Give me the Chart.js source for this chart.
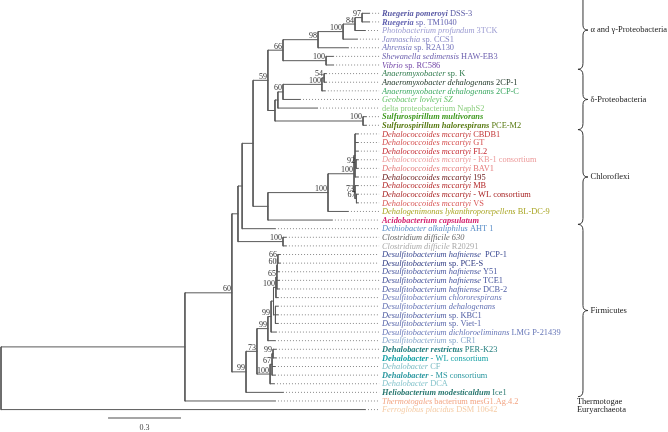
<!DOCTYPE html>
<html>
<head>
<meta charset="utf-8">
<script src="https://cdn.jsdelivr.net/npm/chart.js@4.4.1/dist/chart.umd.min.js"></script>
<style>
  html, body { margin: 0; padding: 0; background: #fff; }
  #wrap { width: 668px; height: 432px; }
</style>
</head>
<body>
<div id="wrap"><canvas id="tree" width="668" height="432"></canvas></div>
<script>
// leaves, top to bottom: italic part, upright part
var taxaItalic = ["Ruegeria pomeroyi","Ruegeria","Photobacterium profundum","Jannaschia","Ahrensia",
  "Shewanella sedimensis","Vibrio","Anaeromyxobacter","Anaeromyxobacter dehalogenans","Anaeromyxobacter dehalogenans",
  "Geobacter lovleyi SZ","","Sulfurospirillum multivorans","Sulfurospirillum halorespirans",
  "Dehalococcoides mccartyi","Dehalococcoides mccartyi","Dehalococcoides mccartyi","Dehalococcoides mccartyi",
  "Dehalococcoides mccartyi","Dehalococcoides mccartyi","Dehalococcoides mccartyi","Dehalococcoides mccartyi",
  "Dehalococcoides mccartyi","Dehalogenimonas lykanthroporepellens","Acidobacterium capsulatum",
  "Dethiobacter alkaliphilus","Clostridium difficile 630","Clostridium difficile",
  "Desulfitobacterium hafniense","Desulfitobacterium","Desulfitobacterium hafniense","Desulfitobacterium hafniense",
  "Desulfitobacterium hafniense","Desulfitobacterium chlororespirans","Desulfitobacterium dehalogenans",
  "Desulfitobacterium","Desulfitobacterium","Desulfitobacterium dichloroeliminans","Desulfitobacterium",
  "Dehalobacter restrictus","Dehalobacter","Dehalobacter","Dehalobacter","Dehalobacter",
  "Heliobacterium modesticaldum","Thermotogales","Ferroglobus placidus"];
var taxaPlain = [" DSS-3"," sp. TM1040"," 3TCK"," sp. CCS1"," sp. R2A130",
  " HAW-EB3"," sp. RC586"," sp. K"," 2CP-1"," 2CP-C",
  "","delta proteobacterium NaphS2",""," PCE-M2",
  " CBDB1"," GT"," FL2"," - KB-1 consortium"," BAV1"," 195"," MB"," - WL consortium"," VS",
  " BL-DC-9",""," AHT 1",""," R20291",
  "  PCP-1"," sp. PCE-S"," Y51"," TCE1"," DCB-2","","",
  " sp. KBC1"," sp. Viet-1"," LMG P-21439"," sp. CR1",
  " PER-K23"," - WL consortium"," CF"," - MS consortium"," DCA",
  " Ice1"," bacterium mesG1.Ag.4.2"," DSM 10642"];
var leafParent = ["N97","N97","N84","Na100","N98","Shew100","Shew100","N54","N54","Anaero100",
  "N60d","NC","Sulf100","Sulf100",
  "D1","D1","D1","N92","N92","D1","D2","N67","N67","Dhc100","ND",
  "N242","Clos100","Clos100",
  "nA","nA","nB","nC","nC","nD","nF","nF","nF","nH","nI",
  "Dhb99","Dhb99","N67b","N67b","Dhb100","Firm99","N1","R"];
var leafDepth = [1.513,1.513,1.496,1.463,1.426,1.365,1.365,1.336,1.336,1.331,
  1.229,1.299,1.500,1.500,
  1.467,1.467,1.467,1.467,1.467,1.467,1.467,1.467,1.467,1.426,1.360,
  1.126,1.171,1.171,
  1.147,1.147,1.143,1.143,1.143,1.138,1.138,1.138,1.138,1.130,1.126,
  1.130,1.130,1.126,1.126,1.122,1.159,1.126,1.496];

// internal nodes
var nodeIds = ["R","N1","N60","N238","N242","N253","N59","N66","N98","Na100","N84","N97","Shew100",
  "NB","NC","N60d","Anaero100","N54","Sulf100","ND","Dhc100","D0","D1","N92","D2","N67",
  "Clos100","Firm99","N73","nI","nH","nG","nD","nC","nB","nA","nF","Dhb100","N67b","Dhb99"];
var nodeParent = [null,"R","N1","N60","N238","N242","N253","N59","N66","N98","Na100","N84","N66",
  "N59","NB","NC","N60d","Anaero100","NB","N253","ND","Dhc100","D0","D1","D0","D2",
  "N238","N60","Firm99","N73","nI","nH","nG","nD","nC","nB","nG","N73","Dhb100","N67b"];
var nodeDepth = [0,0.756,0.949,0.974,0.991,1.036,1.097,1.159,1.303,1.406,1.455,1.484,1.336,
  1.126,1.138,1.159,1.319,1.328,1.488,1.097,1.344,1.451,1.455,1.459,1.455,1.461,
  1.159,1.007,1.052,1.097,1.110,1.120,1.130,1.134,1.136,1.138,1.128,1.106,1.114,1.118];
var nodeSupport = ["","","60","","","","59","66","98","100","84","97","100",
  "","","60","100","54","100","","100","100","","92","73","67",
  "100","99","73","99","99","","100","65","60","66","","100","67","99"];

// clade brackets, in rows (top edge, bottom edge)
var groupNames = ["\u03b1 and \u03b3-Proteobacteria","\u03b4-Proteobacteria","Chloroflexi","Firmicutes"];
var groupTop = [-2.6, 6.5, 13.5, 24.5];
var groupBottom = [6.5, 13.5, 24.5, 44.5];
var soloNames = ["Thermotogae","Euryarchaeota"];
var soloRows = [45,46];
var scaleBarLength = 0.3;

// styles
var taxaColors = ["#5b5ba6","#6464b2","#9c9cd2","#8888c6","#7272bb","#6c5fae","#7448a8",
  "#2f7a4c","#1e3526","#3ca862","#66c46a","#8ccf7e","#3f9a1f","#587a12",
  "#c43a3a","#d45050","#c42c34","#ec9a9a","#e47878","#6e2020","#b42a2a","#a82424","#d85858",
  "#aaa626","#d4226e","#5b8fc8","#666666","#aaaaaa",
  "#3c4a92","#2e3a82","#4a58a0","#44529a","#5260a6","#6a78b8","#6472b4","#4e5ca2","#5866aa","#6878b8","#86a6cc",
  "#217c7c","#14a0a4","#7cbcc4","#2c98a0","#86c4cc","#2a7870","#f2a584","#f5cca6"];
var taxaBold = [1,1,0,0,0,0,0,0,0,0,0,0,1,1,0,0,0,0,0,0,0,0,0,0,1,0,0,0,
  0,0,0,0,0,0,0,0,0,0,0,1,1,0,1,0,1,0,0];

var PX_PER_UNIT = 243.3, ROW = 8.615, TOP = 13.3;
var alignDepth = 1.554, labelDepth = 1.566;
var FONT = '"Liberation Serif", "Times New Roman", serif';

// layout: y of every node from its children
var kids = {};
nodeIds.forEach(function (id) { kids[id] = []; });
leafParent.forEach(function (p, i) { kids[p].push({ leaf: i }); });
nodeParent.forEach(function (p, i) { if (p) kids[p].push({ node: nodeIds[i] }); });
var nodeY = {}, depthOf = {};
nodeIds.forEach(function (id, i) { depthOf[id] = nodeDepth[i]; });
function placeY(id) {
  var ys = kids[id].map(function (k) { return k.leaf !== undefined ? k.leaf : placeY(k.node); });
  var lo = Math.min.apply(null, ys), hi = Math.max.apply(null, ys);
  nodeY[id] = (lo + hi) / 2;
  nodeY[id + "_lo"] = lo; nodeY[id + "_hi"] = hi;
  return nodeY[id];
}
placeY("R");

var solid = [], dots = [];
function seg(arr, x1, y1, x2, y2) {
  arr.push({ x: x1, y: y1 }, { x: x2, y: y2 }, { x: NaN, y: NaN });
}
nodeIds.forEach(function (id, i) {
  seg(solid, nodeDepth[i], nodeY[id + "_lo"], nodeDepth[i], nodeY[id + "_hi"]);
  if (nodeParent[i]) seg(solid, depthOf[nodeParent[i]], nodeY[id], nodeDepth[i], nodeY[id]);
});
leafParent.forEach(function (p, i) {
  seg(solid, depthOf[p], i, leafDepth[i], i);
  seg(dots, leafDepth[i], i, alignDepth, i);
});

var xMin = -1 / PX_PER_UNIT, xMax = xMin + 668 / PX_PER_UNIT;
var yMin = -TOP / ROW, yMax = yMin + 432 / ROW;

var textPlugin = {
  id: 'treeText',
  afterDatasetsDraw: function (chart) {
    var ctx = chart.ctx, xs = chart.scales.x, ys = chart.scales.y;
    ctx.save();
    // taxon names
    ctx.textBaseline = 'middle';
    ctx.textAlign = 'left';
    for (var i = 0; i < taxaItalic.length; i++) {
      var x = xs.getPixelForValue(labelDepth), y = ys.getPixelForValue(i) + 0.5;
      var w = taxaBold[i] ? 'bold ' : '';
      ctx.fillStyle = taxaColors[i];
      if (taxaItalic[i]) {
        ctx.font = 'italic ' + w + '8.4px ' + FONT;
        ctx.fillText(taxaItalic[i], x, y);
        x += ctx.measureText(taxaItalic[i]).width;
      }
      if (taxaPlain[i]) {
        ctx.font = '8.4px ' + FONT;
        ctx.fillText(taxaPlain[i], x, y);
      }
    }
    // bootstrap values
    ctx.fillStyle = '#333';
    ctx.font = '8px ' + FONT;
    ctx.textAlign = 'right';
    ctx.textBaseline = 'alphabetic';
    nodeIds.forEach(function (id, i) {
      if (!nodeSupport[i]) return;
      ctx.fillText(nodeSupport[i], xs.getPixelForValue(nodeDepth[i]) - 1, ys.getPixelForValue(nodeY[id]) - 1.5);
    });
    // braces and group names
    ctx.strokeStyle = '#333';
    ctx.lineWidth = 1;
    ctx.fillStyle = '#222';
    ctx.font = '8.5px ' + FONT;
    ctx.textAlign = 'left';
    ctx.textBaseline = 'middle';
    var bx = xs.getPixelForValue(2.392);
    groupNames.forEach(function (g, k) {
      var y1 = ys.getPixelForValue(groupTop[k]), y2 = ys.getPixelForValue(groupBottom[k]);
      var ym = (y1 + y2) / 2;
      ctx.beginPath();
      ctx.moveTo(bx - 5, y1);
      ctx.quadraticCurveTo(bx, y1, bx, y1 + 6);
      ctx.lineTo(bx, ym - 5);
      ctx.quadraticCurveTo(bx, ym, bx + 5, ym);
      ctx.quadraticCurveTo(bx, ym, bx, ym + 5);
      ctx.lineTo(bx, y2 - 6);
      ctx.quadraticCurveTo(bx, y2, bx - 5, y2);
      ctx.stroke();
      ctx.fillText(g, bx + 7.5, ym);
    });
    soloNames.forEach(function (g, k) {
      ctx.fillText(g, xs.getPixelForValue(2.367), ys.getPixelForValue(soloRows[k]) + 0.5);
    });
    // scale bar
    var sx = xs.getPixelForValue(0.44), sy = ys.getPixelForValue(46.98);
    var ex = xs.getPixelForValue(0.44 + scaleBarLength);
    ctx.strokeStyle = '#888';
    ctx.lineWidth = 1.5;
    ctx.beginPath();
    ctx.moveTo(sx, sy);
    ctx.lineTo(ex, sy);
    ctx.stroke();
    ctx.fillStyle = '#444';
    ctx.textAlign = 'center';
    ctx.font = '8px ' + FONT;
    ctx.fillText(String(scaleBarLength), (sx + ex) / 2, sy + 10);
    ctx.restore();
  }
};

new Chart(document.getElementById('tree'), {
  type: 'scatter',
  data: {
    datasets: [
      { data: solid, showLine: true, spanGaps: false, borderColor: '#5a5a5a', borderWidth: 1,
        pointRadius: 0, borderCapStyle: 'square', clip: false },
      { data: dots, showLine: true, spanGaps: false, borderColor: '#8a8a8a', borderWidth: 1,
        borderDash: [1, 2], pointRadius: 0, clip: false }
    ]
  },
  options: {
    responsive: false,
    animation: false,
    events: [],
    layout: { padding: 0 },
    plugins: { legend: { display: false }, tooltip: { enabled: false } },
    scales: {
      x: { type: 'linear', min: xMin, max: xMax, display: false },
      y: { type: 'linear', min: yMin, max: yMax, reverse: true, display: false }
    }
  },
  plugins: [textPlugin]
});
</script>
</body>
</html>
